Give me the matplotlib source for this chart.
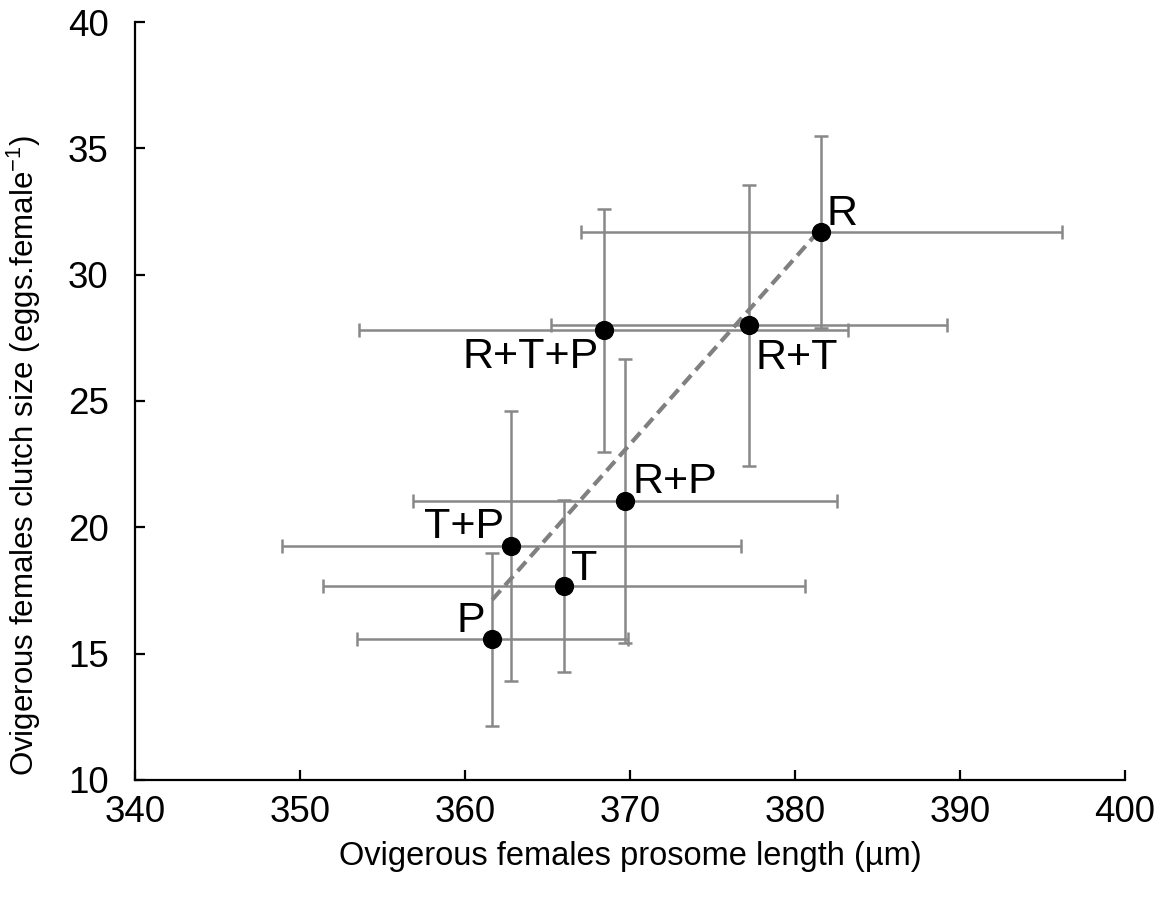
import matplotlib
matplotlib.use('Agg')
import matplotlib.pyplot as plt
import numpy as np

plt.rcParams['font.family'] = ['Liberation Sans', 'DejaVu Sans']
plt.rcParams['mathtext.fontset'] = 'custom'
plt.rcParams['mathtext.rm'] = 'Liberation Sans'
plt.rcParams['mathtext.it'] = 'Liberation Sans'

# treatment means and standard deviations
treatments = ['R', 'R+T', 'R+T+P', 'R+P', 'T+P', 'T', 'P']
prosome = [381.6, 377.2, 368.4, 369.7, 362.8, 366.0, 361.65]
clutch = [31.7, 28.0, 27.8, 21.05, 19.27, 17.68, 15.57]
prosome_sd = [14.6, 12.0, 14.8, 12.85, 13.9, 14.6, 8.2]
clutch_sd = [3.8, 5.56, 4.8, 5.63, 5.35, 3.42, 3.42]

# label offsets (points, to the text baseline) and horizontal alignment
label_pos = {
    'R': ((3.5, 5), 'left'),
    'R+T': ((5, -31.5), 'left'),
    'R+T+P': ((-3.5, -27), 'right'),
    'R+P': ((5.5, 5.5), 'left'),
    'T+P': ((-5, 5.5), 'right'),
    'T': ((5, 4.5), 'left'),
    'P': ((-5, 5), 'right'),
}

fig = plt.figure(figsize=(11.58, 8.99), dpi=100)
ax = fig.add_axes([0.1166, 0.1324, 0.8549, 0.8431])

ax.errorbar(prosome, clutch, xerr=prosome_sd, yerr=clutch_sd, fmt='none',
            ecolor='#888888', elinewidth=1.8, capsize=5, capthick=1.8, zorder=1)

# linear trend line over the range of the means
slope, intercept = np.polyfit(prosome, clutch, 1)
xs = np.array([min(prosome), max(prosome)])
ax.plot(xs, slope * xs + intercept, color='#808080', lw=3, ls=(0, (3, 1.6)), zorder=2)

ax.scatter(prosome, clutch, s=165, color='black', zorder=3)

for name, x, y in zip(treatments, prosome, clutch):
    off, ha = label_pos[name]
    ax.annotate(name, (x, y), xytext=off, textcoords='offset points',
                ha=ha, va='baseline', fontsize=31)

ax.set_xlim(340, 400)
ax.set_ylim(10, 40)
ax.set_xticks(np.arange(340, 401, 10))
ax.set_yticks(np.arange(10, 41, 5))

for side in ['top', 'right']:
    ax.spines[side].set_visible(False)
for side in ['left', 'bottom']:
    ax.spines[side].set_linewidth(1.6)

ax.tick_params(direction='in', length=7, width=1.6, labelsize=26.5)
ax.tick_params(axis='y', pad=19)
ax.tick_params(axis='x', pad=11)

ax.set_xlabel('Ovigerous females prosome length (µm)', fontsize=23.5, labelpad=8)
ax.set_ylabel(r'Ovigerous females clutch size (eggs.female$^{-1}$)', fontsize=22.5)
ax.yaxis.set_label_coords(-0.093, 0.428)

fig.savefig('out.png', dpi=100)
